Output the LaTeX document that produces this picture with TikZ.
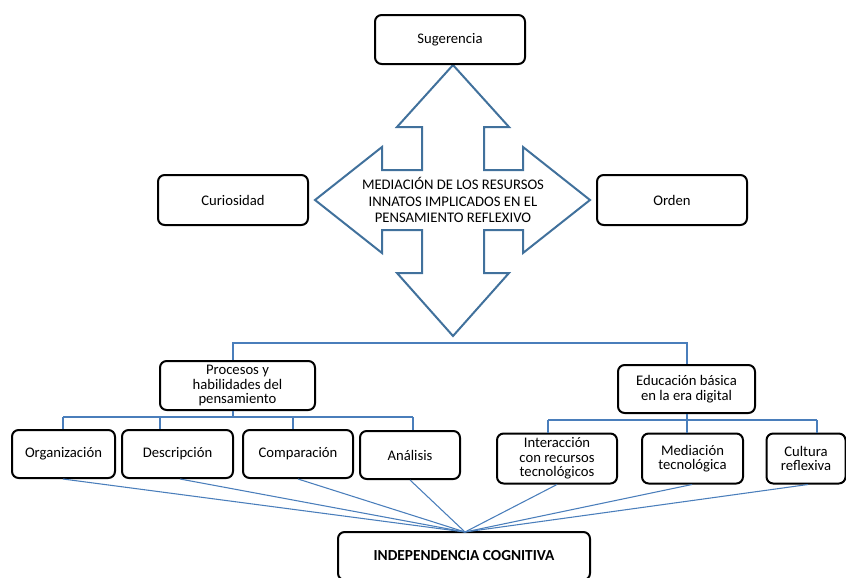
\documentclass[tikz,border=0pt]{standalone}
\usepackage{fontspec}
\setmainfont{Carlito}
\begin{document}
\begin{tikzpicture}[x=0.75pt,y=-0.75pt,
  box/.style={draw=black,line width=1.5pt,rounded corners=5pt,fill=white,align=center,inner sep=2pt,
    font=\fontsize{11}{11}\selectfont},
  bigarrow/.style={draw={rgb,255:red,65;green,113;blue,156},line width=1.5pt,line join=miter},
  conn/.style={draw={rgb,255:red,74;green,126;blue,187},line width=0.8pt}]
\useasboundingbox (0,0) rectangle (846,578);
% four-way arrow
\draw[bigarrow] (453,65) -- (509,127) -- (484,127) -- (484,170) -- (523,170) -- (523,147) -- (590,200)
  -- (523,253) -- (523,230) -- (484,230) -- (484,273) -- (509,273) -- (453,336) -- (397,273)
  -- (422,273) -- (422,230) -- (382,230) -- (382,253) -- (315,200) -- (382,147) -- (382,170)
  -- (422,170) -- (422,127) -- (397,127) -- cycle;
\node[align=center,font=\fontsize{11}{12.4}\selectfont] (mid) at (453,200)
  {MEDIACIÓN DE LOS RESURSOS\\INNATOS IMPLICADOS EN EL\\PENSAMIENTO REFLEXIVO};
% boxes
\node[box,minimum width=150*0.75pt,minimum height=49*0.75pt] (sug) at (450,39.5) {Sugerencia};
\node[box,minimum width=150*0.75pt,minimum height=50*0.75pt] (cur) at (233,200) {Curiosidad};
\node[box,minimum width=150*0.75pt,minimum height=50*0.75pt] (ord) at (672,200) {Orden};
\node[box,minimum width=155*0.75pt,minimum height=49*0.75pt] (proc) at (237.5,385.5) {Procesos y\\habilidades del\\pensamiento};
\node[box,minimum width=137*0.75pt,minimum height=48*0.75pt] (edu) at (686.5,389) {Educación básica\\en la era digital};
\node[box,minimum width=103*0.75pt,minimum height=48*0.75pt] (org) at (63.5,454) {Organización};
\node[box,minimum width=111*0.75pt,minimum height=48*0.75pt] (desc) at (177.5,454) {Descripción};
\node[box,minimum width=110*0.75pt,minimum height=48*0.75pt] (comp) at (298,454) {Comparación};
\node[box,minimum width=100*0.75pt,minimum height=48*0.75pt] (anal) at (410,455) {Análisis};
\node[box,minimum width=120*0.75pt,minimum height=50*0.75pt] (inter) at (557,458.5) {Interacción\\con recursos\\tecnológicos};
\node[box,minimum width=101*0.75pt,minimum height=50*0.75pt] (med) at (692.5,458.5) {Mediación\\tecnológica};
\node[box,minimum width=79*0.75pt,minimum height=50*0.75pt] (cult) at (806,458.5) {Cultura\\reflexiva};
\node[box,minimum width=252*0.75pt,minimum height=48*0.75pt,font=\fontsize{11.5}{12}\selectfont\bfseries] (indep) at (464,556) {INDEPENDENCIA COGNITIVA};
% top bus
\coordinate (bL) at (233,343);
\coordinate (bR) at (687,343);
\draw[conn] (bL |- proc.north) -- (bL) -- (bR) -- (bR |- edu.north);
% procesos bus
\coordinate (pb) at (233,417);
\draw[conn] (proc.south -| pb) -- (pb);
\draw[conn] (63,417) -- (413,417);
\draw[conn] (63,417) -- (org.north -| 63,0);
\draw[conn] (160,417) -- (desc.north -| 160,0);
\draw[conn] (293,417) -- (comp.north -| 293,0);
\draw[conn] (413,417) -- (anal.north -| 413,0);
% educacion bus
\coordinate (eb) at (687,420);
\draw[conn] (edu.south -| eb) -- (eb);
\draw[conn] (548,420) -- (817,420);
\draw[conn] (548,420) -- (inter.north -| 548,0);
\draw[conn] (687,420) -- (med.north -| 687,0);
\draw[conn] (817,420) -- (cult.north -| 817,0);
% converging lines
\coordinate (conv) at (465,532);
\draw[conn] (org.south -| 63,0) -- (conv);
\draw[conn] (desc.south -| 180,0) -- (conv);
\draw[conn] (comp.south -| 298,0) -- (conv);
\draw[conn] (anal.south -| 410,0) -- (conv);
\draw[conn] (inter.south -| 557,0) -- (conv);
\draw[conn] (med.south -| 692,0) -- (conv);
\draw[conn] (cult.south -| 808,0) -- (conv);
\end{tikzpicture}
\end{document}
